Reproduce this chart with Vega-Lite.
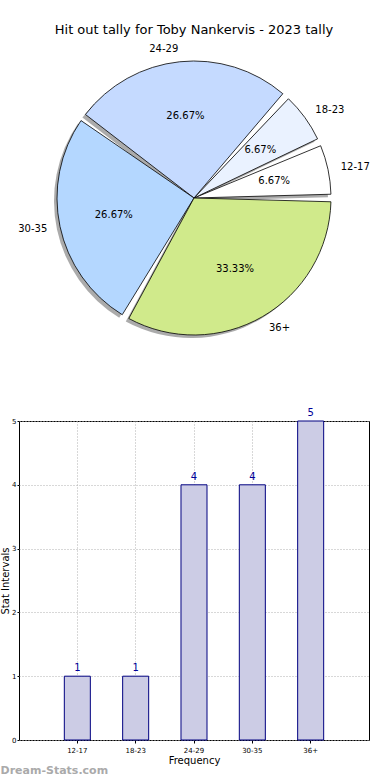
{
  "$schema": "https://vega.github.io/schema/vega-lite/v6.json",
  "padding": {"top": 24, "left": 0, "right": 0, "bottom": 0},
  "spacing": 52,
  "config": {"font": "DejaVu Sans", "view": {"stroke": null}},
  "vconcat": [
    {
      "width": 350,
      "height": 314,
      "title": {"text": "Hit out tally for Toby Nankervis - 2023 tally", "fontSize": 13, "fontWeight": "normal", "color": "black", "offset": 4},
      "data": {"values": [
        {"group": "12-17", "count": 1, "pct": 0.0667},
        {"group": "18-23", "count": 1, "pct": 0.0667},
        {"group": "24-29", "count": 4, "pct": 0.2667},
        {"group": "30-35", "count": 4, "pct": 0.2667},
        {"group": "36+", "count": 5, "pct": 0.3333}
      ]},
      "encoding": {
        "theta": {"field": "count", "type": "quantitative", "stack": true, "scale": {"range": [1.5708, -4.7124]}}
      },
      "layer": [
        {"mark": {"type": "arc", "radius": 137, "padAngle": 0.055, "fill": "#666666", "opacity": 0.55, "xOffset": -3, "yOffset": 3}},
        {"mark": {"type": "arc", "radius": 137, "padAngle": 0.055, "stroke": "black", "strokeWidth": 0.8},
         "encoding": {"color": {"field": "group", "type": "nominal", "scale": {"domain": ["12-17", "18-23", "24-29", "30-35", "36+"], "range": ["#ffffff", "#eaf2ff", "#c5daff", "#b4d7ff", "#d0ea8b"]}, "legend": null}}},
        {"mark": {"type": "text", "radius": 82, "fontSize": 10, "color": "black"},
         "encoding": {"text": {"field": "pct", "type": "quantitative", "format": ".2%"}}},
        {"mark": {"type": "text", "radius": 150, "fontSize": 10, "align": "left", "baseline": "middle", "color": "black"},
         "encoding": {"text": {"condition": {"test": "indexof(['12-17','18-23','36+'], datum.group) >= 0", "field": "group", "type": "nominal"}, "value": ""}}},
        {"mark": {"type": "text", "radius": 150, "fontSize": 10, "align": "right", "baseline": "middle", "color": "black"},
         "encoding": {"text": {"condition": {"test": "indexof(['24-29','30-35'], datum.group) >= 0", "field": "group", "type": "nominal"}, "value": ""}}}
      ]
    },
    {
      "width": 350,
      "height": 319,
      "view": {"stroke": "black", "strokeWidth": 1},
      "title": {"text": "Dream-Stats.com", "orient": "bottom", "anchor": "start", "frame": "bounds", "color": "#aaaaaa", "fontSize": 11, "fontWeight": "bold", "offset": 0},
      "data": {"values": [
        {"group": "12-17", "count": 1},
        {"group": "18-23", "count": 1},
        {"group": "24-29", "count": 4},
        {"group": "30-35", "count": 4},
        {"group": "36+", "count": 5}
      ]},
      "encoding": {
        "x": {"field": "group", "type": "nominal", "sort": null,
              "scale": {"paddingInner": 0.554, "paddingOuter": 0.777},
              "axis": {"title": "Frequency", "titleFontSize": 10, "titleFontWeight": "normal", "titlePadding": 2, "labelFontSize": 7, "labelAngle": 0, "labelPadding": 3, "tickSize": 3, "tickColor": "black", "domain": false, "grid": true, "bandPosition": 0.5, "gridColor": "#b0b0b0", "gridDash": [1, 2], "labelColor": "black", "titleColor": "black"}},
        "y": {"field": "count", "type": "quantitative", "scale": {"domain": [0, 5]},
              "axis": {"title": "Stat Intervals", "titleFontSize": 10, "titleFontWeight": "normal", "titlePadding": 1, "labelFontSize": 7, "labelPadding": 1, "tickSize": 2, "tickColor": "black", "tickCount": 5, "domain": false, "grid": true, "gridColor": "#b0b0b0", "gridDash": [1, 2], "labelColor": "black", "titleColor": "black"}}
      },
      "layer": [
        {"mark": {"type": "bar", "fill": "#cccce5", "stroke": "#000080", "strokeWidth": 1}},
        {"mark": {"type": "text", "baseline": "bottom", "dy": -3, "fontSize": 10, "color": "#000099"},
         "encoding": {"text": {"field": "count", "type": "quantitative"}}}
      ]
    }
  ]
}
